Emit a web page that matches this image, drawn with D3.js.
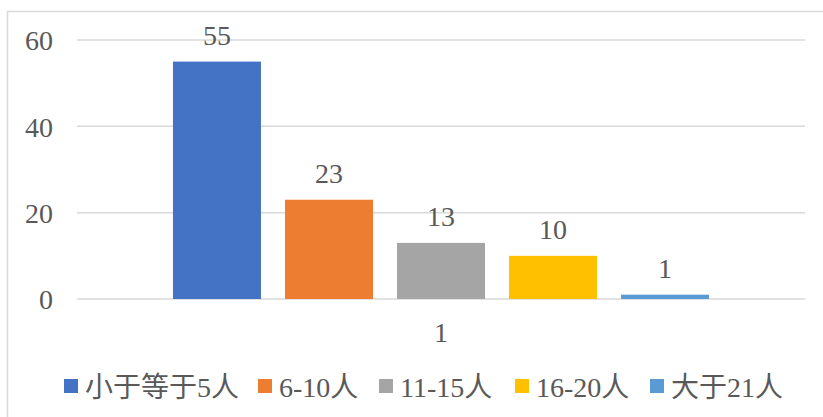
<!DOCTYPE html>
<html>
<head>
<meta charset="utf-8">
<script src="https://cdn.jsdelivr.net/npm/d3@7"></script>
<style>
  html, body { margin: 0; padding: 0; background: #fff; }
  svg { display: block; }
  text { font-family: "Liberation Serif", "Times New Roman", "DejaVu Serif", "Noto Sans CJK SC", serif; fill: #595959; }
</style>
</head>
<body>
<svg id="chart" width="823" height="417"></svg>
<script>
// Single category, one bar per group-size bucket
const categories = ["1"];
const seriesNames = ["小于等于5人", "6-10人", "11-15人", "16-20人", "大于21人"];
const seriesValues = [55, 23, 13, 10, 1];
const seriesColors = ["#4472C4", "#ED7D31", "#A5A5A5", "#FFC000", "#5B9BD5"];
const yTicks = [0, 20, 40, 60];

const svg = d3.select("#chart");
const W = 823, H = 417;
const FS = 28;
const SERIF = "\"Liberation Serif\", \"Times New Roman\", \"DejaVu Serif\", \"Noto Sans CJK SC\", serif";

// Chart frame (extends past right/bottom edges)
svg.append("rect")
  .attr("x", 7.5).attr("y", 11.5)
  .attr("width", W + 10).attr("height", H + 10)
  .attr("fill", "#fff").attr("stroke", "#d9d9d9").attr("stroke-width", 1.5);

const plotLeft = 77, plotRight = 805;
const y = d3.scaleLinear().domain([0, 60]).range([299, 40]);
const x0 = d3.scaleBand().domain(categories).range([plotLeft, plotRight])
  .paddingInner(0).paddingOuter(0.179);
const x1 = d3.scaleBand().domain(seriesNames).range([0, x0.bandwidth()])
  .paddingInner(24 / 112).paddingOuter(0);

// Gridlines
svg.append("g").selectAll("line").data(yTicks).join("line")
  .attr("x1", plotLeft).attr("x2", plotRight)
  .attr("y1", d => y(d)).attr("y2", d => y(d))
  .attr("stroke", "#d9d9d9").attr("stroke-width", 1.5);

// Y axis labels
const yAxis = d3.axisLeft(y).tickValues(yTicks).tickSize(0).tickPadding(0);
const gy = svg.append("g").attr("transform", "translate(53,0)").call(yAxis);
gy.attr("font-family", null);
gy.select(".domain").remove();
gy.selectAll("text")
  .attr("font-size", FS)
  .attr("dy", "0.35em")
  .style("font-family", SERIF)
  .attr("fill", "#595959");

// Bars
const rows = seriesNames.map((name, i) => ({ name, value: seriesValues[i], color: seriesColors[i], cat: categories[0] }));
const g = svg.append("g");
g.selectAll("rect").data(rows).join("rect")
  .attr("x", d => x0(d.cat) + x1(d.name))
  .attr("y", d => y(d.value))
  .attr("width", x1.bandwidth())
  .attr("height", d => y(0) - y(d.value))
  .attr("fill", d => d.color);

// Value labels
g.selectAll("text.val").data(rows).join("text")
  .attr("class", "val")
  .attr("x", d => x0(d.cat) + x1(d.name) + x1.bandwidth() / 2)
  .attr("y", d => y(d.value) - 17)
  .attr("text-anchor", "middle")
  .attr("font-size", FS)
  .style("font-family", SERIF)
  .text(d => d.value);

// Category axis label
const xAxis = d3.axisBottom(x0).tickSize(0).tickPadding(0);
const gx = svg.append("g").attr("transform", "translate(0,342)").call(xAxis);
gx.attr("font-family", null);
gx.select(".domain").remove();
gx.selectAll("text")
  .attr("font-size", FS)
  .attr("dy", 0)
  .attr("y", 0)
  .style("font-family", SERIF)
  .attr("fill", "#595959");

// Legend
const legendX = [64, 258, 379, 515, 650];
const leg = svg.append("g");
const items = leg.selectAll("g").data(rows).join("g")
  .attr("transform", (d, i) => `translate(${legendX[i]},379)`);
items.append("rect").attr("width", 14).attr("height", 14).attr("fill", d => d.color);
items.append("text").attr("x", 21).attr("y", 18).attr("font-size", 28)
  .style("font-family", SERIF)
  .text(d => d.name);
</script>
</body>
</html>
